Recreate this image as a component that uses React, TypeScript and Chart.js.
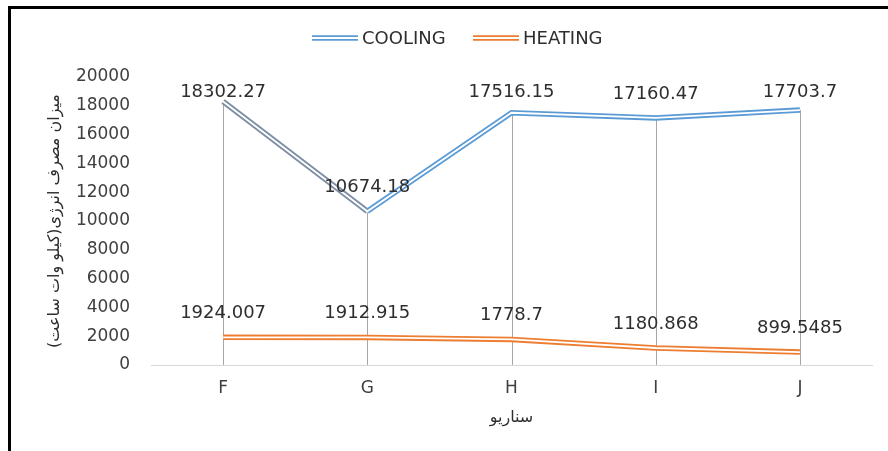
import React, { useEffect, useRef } from "react";
import { Chart, registerables } from "chart.js";

Chart.register(...registerables);

const categories = ["F", "G", "H", "I", "J"];
const cooling = [18302.27, 10674.18, 17516.15, 17160.47, 17703.7];
const heating = [1924.007, 1912.915, 1778.7, 1180.868, 899.5485];
const seriesNames = ["COOLING", "HEATING"];
const yMin = 0;
const yMax = 20000;
const yStep = 2000;
const yTitle = "میزان مصرف انرژی(کیلو وات ساعت)";
const xTitle = "سناریو";

const BLUE = "#5B9BD5";
const BLUE_GRAY = "#7d8ea4";
const ORANGE = "#ED7D31";
const TEXT = "#2e2e2e";
const TICK = "#404040";
const NUM_FONT = "'DejaVu Sans', sans-serif";
const AR_FONT = "'DejaVu Sans', 'Noto Sans', sans-serif";
const OUTER_W = 5.5;
const INNER_W = 1.8;

const extras = {
  id: "extras",
  beforeDatasetsDraw(chart: any) {
    const ctx = chart.ctx;
    const meta = chart.getDatasetMeta(0);
    const bottom = chart.scales.y.getPixelForValue(0);
    ctx.save();
    ctx.strokeStyle = "#a6a6a6";
    ctx.lineWidth = 1;
    meta.data.forEach((pt: any) => {
      const x = Math.round(pt.x) + 0.5;
      ctx.beginPath();
      ctx.moveTo(x, pt.y);
      ctx.lineTo(x, bottom);
      ctx.stroke();
    });
    ctx.restore();
  },
  afterDatasetsDraw(chart: any) {
    const ctx = chart.ctx;
    const area = chart.chartArea;
    ctx.save();
    ctx.fillStyle = TEXT;
    ctx.font = `18px ${NUM_FONT}`;
    ctx.textAlign = "center";
    ctx.textBaseline = "middle";
    [0, 2].forEach((di) => {
      const meta = chart.getDatasetMeta(di);
      const values = chart.data.datasets[di].data;
      meta.data.forEach((pt: any, i: number) => {
        let y = pt.y - 24;
        if (y < area.top + 15) y = area.top + 15;
        ctx.fillText(String(values[i]), pt.x, y);
      });
    });
    ctx.restore();
  },
  afterDraw(chart: any) {
    const ctx = chart.ctx;
    const area = chart.chartArea;
    ctx.save();
    const items = [
      { name: seriesNames[0], color: BLUE, x: 312 },
      { name: seriesNames[1], color: ORANGE, x: 473 },
    ];
    const ly = 38;
    items.forEach((it) => {
      ctx.strokeStyle = it.color;
      ctx.lineWidth = OUTER_W;
      ctx.beginPath();
      ctx.moveTo(it.x, ly);
      ctx.lineTo(it.x + 46, ly);
      ctx.stroke();
      ctx.strokeStyle = "#ffffff";
      ctx.lineWidth = INNER_W;
      ctx.beginPath();
      ctx.moveTo(it.x, ly);
      ctx.lineTo(it.x + 46, ly);
      ctx.stroke();
      ctx.fillStyle = TEXT;
      ctx.font = `18px ${NUM_FONT}`;
      ctx.textAlign = "left";
      ctx.textBaseline = "middle";
      ctx.fillText(it.name, it.x + 50, ly + 1);
    });
    ctx.fillStyle = TEXT;
    ctx.font = `16px ${AR_FONT}`;
    ctx.textAlign = "center";
    ctx.textBaseline = "middle";
    ctx.save();
    ctx.translate(55, (area.top + area.bottom) / 2);
    ctx.rotate(-Math.PI / 2);
    ctx.fillText(yTitle, 0, 0);
    ctx.restore();
    ctx.fillText(xTitle, (area.left + area.right) / 2, 418);
    ctx.restore();
  },
};

export default function App() {
  const ref = useRef<HTMLCanvasElement>(null);
  useEffect(() => {
    const canvas = ref.current!;
    const line = (label: string, data: number[], color: any, width: number, order: number, extra: any = {}) => ({
      label,
      data,
      borderColor: color,
      borderWidth: width,
      pointRadius: 0,
      tension: 0,
      order,
      ...extra,
    });
    const chart = new Chart(canvas, {
      type: "line",
      data: {
        labels: categories,
        datasets: [
          line(seriesNames[0], cooling, BLUE, OUTER_W, 2, {
            segment: {
              borderColor: (c: any) => (c.p0DataIndex === 0 ? BLUE_GRAY : BLUE),
            },
          }),
          line("coolingInner", cooling, "#ffffff", INNER_W, 1),
          line(seriesNames[1], heating, ORANGE, OUTER_W, 2),
          line("heatingInner", heating, "#ffffff", INNER_W, 1),
        ] as any,
      },
      options: {
        responsive: false,
        animation: false,
        devicePixelRatio: 1,
        layout: { padding: { top: 77, right: 16, left: 0, bottom: 0 } },
        plugins: {
          legend: { display: false },
          tooltip: { enabled: false },
        },
        scales: {
          x: {
            offset: true,
            grid: { display: false, drawTicks: false },
            border: { display: true, color: "#d9d9d9", width: 1 },
            ticks: {
              color: TICK,
              font: { family: NUM_FONT, size: 17 },
              padding: 13,
            },
            afterFit: (s: any) => {
              s.height = 86;
            },
          },
          y: {
            min: yMin,
            max: yMax,
            grid: { display: false, drawTicks: false },
            border: { display: false },
            ticks: {
              stepSize: yStep,
              color: TICK,
              font: { family: NUM_FONT, size: 17 },
              padding: 21,
              callback: (v: any) => String(v),
            },
            afterFit: (s: any) => {
              s.width = 151;
            },
          },
        },
      },
      plugins: [extras],
    });
    return () => chart.destroy();
  }, []);
  return (
    <div
      style={{
        position: "fixed",
        left: 0,
        top: 0,
        width: 888,
        height: 451,
        background: "#fff",
        overflow: "hidden",
      }}
    >
      <canvas ref={ref} width={888} height={451} style={{ display: "block", width: 888, height: 451 }} />
      <div
        style={{
          position: "absolute",
          left: 8,
          top: 6,
          width: 1000,
          height: 1000,
          borderLeft: "3px solid #000",
          borderTop: "3px solid #000",
          pointerEvents: "none",
        }}
      />
    </div>
  );
}
